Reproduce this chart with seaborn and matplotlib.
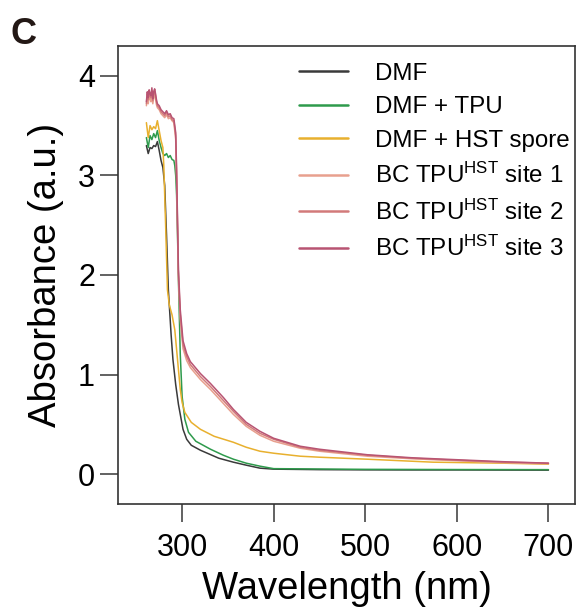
import numpy as np
import pandas as pd
import matplotlib
matplotlib.use("Agg")
import matplotlib.pyplot as plt
import seaborn as sns

sns.set_theme(style="white")
plt.rcParams['font.family'] = ['Liberation Sans', 'DejaVu Sans']
plt.rcParams['mathtext.fontset'] = 'custom'
plt.rcParams['mathtext.rm'] = 'Liberation Sans'
plt.rcParams['mathtext.it'] = 'Liberation Sans'
plt.rcParams['text.color'] = 'black'
plt.rcParams['axes.labelcolor'] = 'black'
plt.rcParams['xtick.labelcolor'] = 'black'
plt.rcParams['ytick.labelcolor'] = 'black'

labels = ["DMF", "DMF + TPU", "DMF + HST spore",
          r"BC TPU$^{\mathrm{HST}}$ site 1", r"BC TPU$^{\mathrm{HST}}$ site 2", r"BC TPU$^{\mathrm{HST}}$ site 3"]
colors = ["#3a3a3a", "#2e9a4c", "#e8b02e", "#e8a08e", "#d27a7a", "#b85472"]

dmf_x = [261, 263, 265, 267, 269, 271, 273, 275, 277, 279, 281, 283, 285, 288, 290, 293, 296, 298, 301, 305, 310, 320, 330, 340, 356, 370, 385, 400, 450, 500, 550, 600, 650, 700]
dmf_y = [3.30, 3.22, 3.28, 3.27, 3.30, 3.29, 3.34, 3.25, 3.15, 3.08, 2.90, 2.40, 1.85, 1.40, 1.15, 0.90, 0.70, 0.60, 0.45, 0.35, 0.29, 0.24, 0.20, 0.16, 0.12, 0.09, 0.06, 0.05, 0.045, 0.043, 0.042, 0.042, 0.041, 0.040]

tpu_x = [261, 263, 265, 267, 269, 271, 273, 275, 277, 279, 281, 283, 285, 287, 289, 291, 292, 293, 294, 295, 296, 298, 300, 303, 307, 315, 331, 345, 356, 370, 385, 400, 500, 600, 700]
tpu_y = [3.38, 3.28, 3.40, 3.36, 3.42, 3.38, 3.45, 3.35, 3.28, 3.22, 3.20, 3.22, 3.18, 3.20, 3.16, 3.15, 3.10, 3.00, 2.80, 2.40, 1.95, 1.20, 0.78, 0.55, 0.42, 0.33, 0.25, 0.19, 0.15, 0.11, 0.08, 0.055, 0.048, 0.046, 0.045]

hst_x = [261, 263, 265, 267, 269, 271, 273, 275, 277, 279, 280, 282, 284, 286, 289, 292, 295, 298, 300, 303, 310, 320, 335, 356, 370, 385, 400, 429, 450, 502, 550, 574, 650, 700]
hst_y = [3.53, 3.38, 3.50, 3.46, 3.49, 3.47, 3.55, 3.45, 3.35, 3.28, 3.10, 2.50, 1.85, 1.70, 1.60, 1.45, 1.15, 0.85, 0.72, 0.62, 0.52, 0.45, 0.38, 0.32, 0.27, 0.23, 0.21, 0.18, 0.17, 0.15, 0.13, 0.12, 0.11, 0.10]

bc_x = [261, 262, 263, 264, 265, 266, 267, 268, 269, 270, 271, 272, 273, 275, 277, 279, 281, 283, 285, 287, 289, 291, 293, 294, 295, 296, 298, 301, 305, 309, 320, 331, 345, 356, 370, 385, 400, 429, 450, 502, 550, 574, 650, 700]
site1_y = [3.70, 3.78, 3.72, 3.80, 3.77, 3.74, 3.80, 3.72, 3.78, 3.82, 3.77, 3.71, 3.68, 3.66, 3.62, 3.60, 3.58, 3.61, 3.57, 3.58, 3.55, 3.53, 3.36, 2.95, 2.45, 1.95, 1.55, 1.26, 1.14, 1.07, 0.95, 0.85, 0.71, 0.60, 0.48, 0.39, 0.33, 0.26, 0.23, 0.18, 0.155, 0.145, 0.115, 0.105]
site2_y = [3.72, 3.82, 3.76, 3.84, 3.80, 3.78, 3.85, 3.75, 3.82, 3.86, 3.80, 3.74, 3.70, 3.68, 3.64, 3.62, 3.60, 3.64, 3.59, 3.60, 3.56, 3.55, 3.40, 3.00, 2.50, 2.00, 1.60, 1.30, 1.18, 1.10, 0.98, 0.88, 0.74, 0.63, 0.50, 0.41, 0.35, 0.27, 0.24, 0.19, 0.16, 0.15, 0.12, 0.11]
site3_y = [3.74, 3.84, 3.78, 3.86, 3.82, 3.80, 3.88, 3.77, 3.84, 3.87, 3.82, 3.76, 3.72, 3.70, 3.66, 3.64, 3.62, 3.65, 3.61, 3.62, 3.58, 3.57, 3.43, 3.05, 2.55, 2.05, 1.65, 1.34, 1.21, 1.13, 1.01, 0.91, 0.77, 0.65, 0.52, 0.43, 0.36, 0.28, 0.25, 0.195, 0.165, 0.155, 0.125, 0.11]

series = [(dmf_x, dmf_y), (tpu_x, tpu_y), (hst_x, hst_y),
          (bc_x, site1_y), (bc_x, site2_y), (bc_x, site3_y)]
frames = []
for lab, (xs, ys) in zip(labels, series):
    frames.append(pd.DataFrame({"Wavelength": xs, "Absorbance": ys, "Sample": lab}))
df = pd.concat(frames, ignore_index=True)

fig = plt.figure(figsize=(5.77, 6.15), dpi=100)
ax = fig.add_axes([118/577, 1-504/615, 457/577, 458/615])
sns.lineplot(data=df, x="Wavelength", y="Absorbance", hue="Sample",
             hue_order=labels, palette=colors, linewidth=1.1, ax=ax, legend=True)

ax.set_xlim(230, 729)
ax.set_ylim(-0.30, 4.30)
ax.set_xticks([300, 400, 500, 600, 700])
ax.set_yticks([0, 1, 2, 3, 4])
ax.tick_params(axis='both', which='major', direction='out', length=12.7, width=1.3,
               color='#555555', labelsize=22, bottom=True, left=True, labelcolor='black')
ax.tick_params(axis='x', pad=8)
ax.tick_params(axis='y', pad=3.8)
for s in ax.spines.values():
    s.set_color('#333333')
    s.set_linewidth(1.2)
ax.set_xlabel("Wavelength (nm)", fontsize=27.5, labelpad=6, color='black')
ax.set_ylabel("Absorbance (a.u.)", fontsize=27.5, labelpad=10, color='black')

leg = ax.legend(loc='upper right', bbox_to_anchor=(1.026, 1.0), frameon=False,
                fontsize=17.4, handlelength=2.0, handletextpad=1.15, labelspacing=0.47,
                borderaxespad=0.3)
for t in leg.get_texts():
    t.set_color('black')
for h in leg.get_lines():
    h.set_linewidth(1.8)

fig.text(10/577, 1-44/615, "C", fontsize=26, fontweight='bold', color='#231815')

fig.savefig("out.png", dpi=100)
